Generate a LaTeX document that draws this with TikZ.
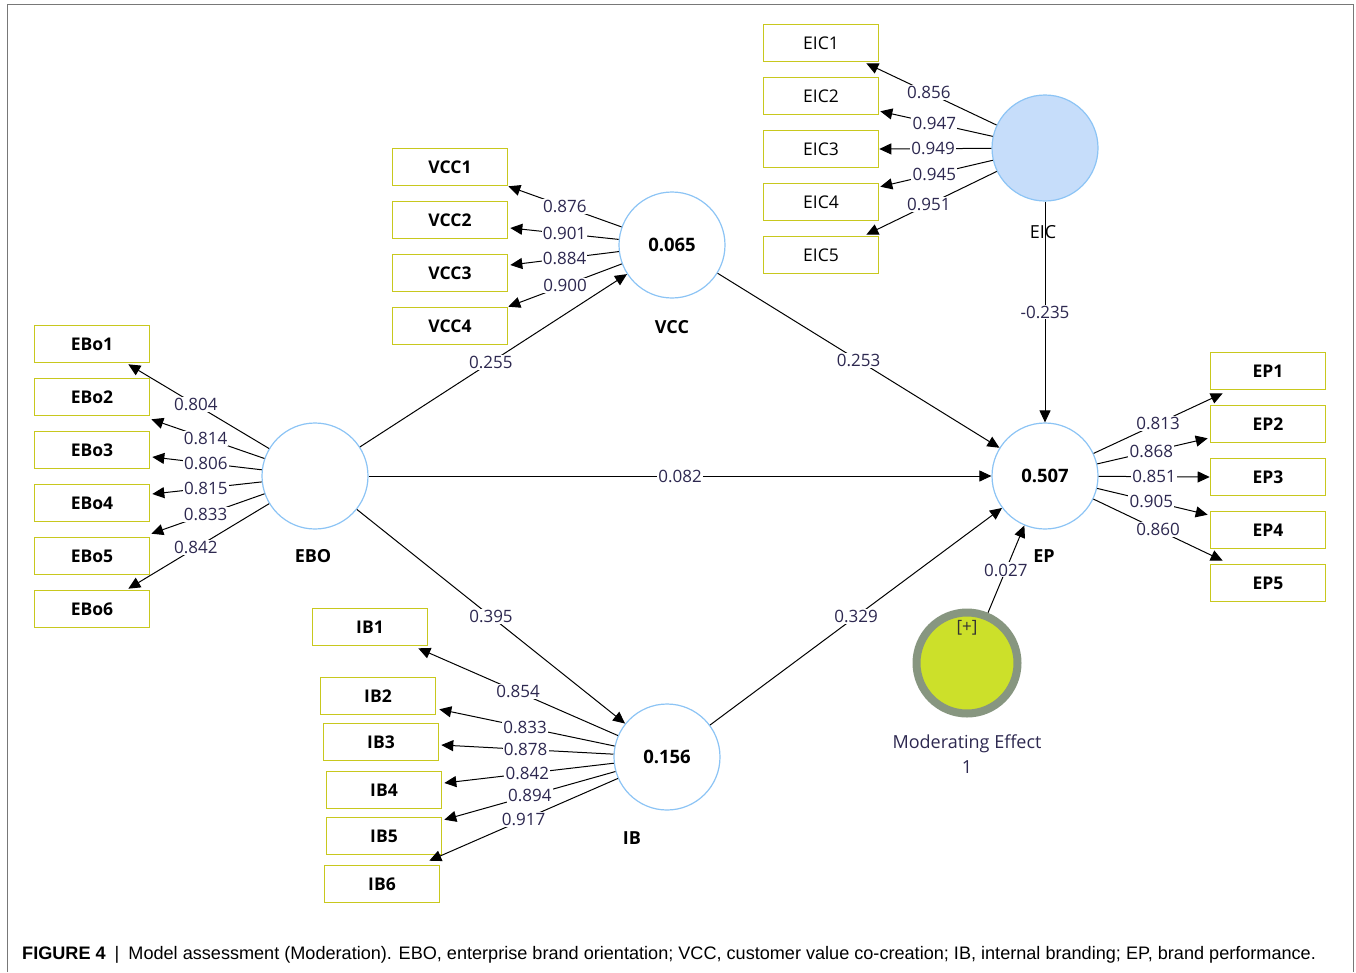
\documentclass[tikz,border=0pt]{standalone}
\usepackage{fontspec}
\setmainfont{Open Sans}
\newfontfamily\capfont{Liberation Sans}
\usetikzlibrary{arrows.meta,calc}
\definecolor{indyellow}{RGB}{200,200,30}
\definecolor{lvblue}{RGB}{140,196,245}
\definecolor{eicfill}{RGB}{198,221,250}
\definecolor{modfill}{RGB}{204,224,42}
\definecolor{modring}{RGB}{135,150,128}
\definecolor{labcol}{RGB}{45,40,80}
\definecolor{framegray}{RGB}{120,120,120}
\begin{document}
\begin{tikzpicture}[x=1pt,y=-1pt,
  ind/.style={draw=indyellow, line width=1.6pt, minimum width=115pt, minimum height=37pt, inner sep=0pt, fill=white, font=\bfseries\fontsize{17.5}{20}\selectfont},
  indr/.style={ind, font=\fontsize{17.5}{20}\selectfont},
  lv/.style={circle, draw=lvblue, line width=1.2pt, minimum size=106pt, inner sep=0pt, fill=white, font=\bfseries\fontsize{18.5}{21}\selectfont},
  lvname/.style={font=\bfseries\fontsize{18}{20}\selectfont, inner sep=0pt},
  load/.style={-{Triangle[length=12pt,width=11pt]}, line width=1pt},
  lab/.style={fill=white, inner sep=1.2pt, pos=0.5, font=\fontsize{17}{19}\selectfont, text=labcol},
]
\useasboundingbox (0,0) rectangle (1356,972);
\draw[framegray, line width=1pt] (7,972) -- (7,4) -- (1353,4) -- (1353,972);

% latent variables
\node[lv] (VCC) at (672,245) {0.065};
\node[lv, fill=eicfill] (EIC) at (1045,148) {};
\node[lv] (EBO) at (315,476) {};
\node[lv] (EP) at (1045,476) {0.507};
\node[lv] (IB) at (667,757) {0.156};
\node[circle, draw=modring, line width=8pt, fill=modfill, minimum size=101pt, inner sep=0pt] (MOD) at (967,663) {};
\node[font=\fontsize{17}{19}\selectfont, text=black!80] (MODplus) at (967,628) {[+]};

\node[lvname] (VCCn) at (672,327) {VCC};
\node[lvname] (EBOn) at (313,556) {EBO};
\node[lvname] (IBn) at (632,838) {IB};
\node[lvname] (EPn) at (1044,556) {EP};
\node[font=\fontsize{18}{20}\selectfont, inner sep=0pt] (EICn) at (1043,232) {EIC};
\node[font=\fontsize{18}{20}\selectfont, text=labcol, inner sep=0pt] (MODn) at (967,744) {Moderating Effect};
\node[font=\fontsize{18}{20}\selectfont, text=labcol, inner sep=0pt] (MODn2) at (967,767) {1};

% indicators
\node[indr] (EIC1) at (821,43) {EIC1};
\node[indr] (EIC2) at (821,96) {EIC2};
\node[indr] (EIC3) at (821,149) {EIC3};
\node[indr] (EIC4) at (821,202) {EIC4};
\node[indr] (EIC5) at (821,255) {EIC5};

\node[ind] (VCC1) at (450,167) {VCC1};
\node[ind] (VCC2) at (450,220) {VCC2};
\node[ind] (VCC3) at (450,273) {VCC3};
\node[ind] (VCC4) at (450,326) {VCC4};

\node[ind] (EBo1) at (92,344) {EBo1};
\node[ind] (EBo2) at (92,397) {EBo2};
\node[ind] (EBo3) at (92,450) {EBo3};
\node[ind] (EBo4) at (92,503) {EBo4};
\node[ind] (EBo5) at (92,556) {EBo5};
\node[ind] (EBo6) at (92,609) {EBo6};

\node[ind] (IB1) at (370,627) {IB1};
\node[ind] (IB2) at (378,696) {IB2};
\node[ind] (IB3) at (381,742) {IB3};
\node[ind] (IB4) at (384,790) {IB4};
\node[ind] (IB5) at (384,836) {IB5};
\node[ind] (IB6) at (382,884) {IB6};

\node[ind] (EP1) at (1268,371) {EP1};
\node[ind] (EP2) at (1268,424) {EP2};
\node[ind] (EP3) at (1268,477) {EP3};
\node[ind] (EP4) at (1268,530) {EP4};
\node[ind] (EP5) at (1268,583) {EP5};

% EIC loadings
\draw[load] (EIC) -- ($(EIC1.south east)+(-13,1)$) node[lab,pos=0.52]{0.856};
\draw[load] (EIC) -- ($(EIC2.south east)+(1,-4)$) node[lab,pos=0.52]{0.947};
\draw[load] (EIC) -- (EIC3.east) node[lab,pos=0.52]{0.949};
\draw[load] (EIC) -- ($(EIC4.north east)+(1,4)$) node[lab,pos=0.52]{0.945};
\draw[load] (EIC) -- ($(EIC5.north east)+(-13,-1)$) node[lab,pos=0.52]{0.951};

% VCC loadings
\draw[load] (VCC) -- (VCC1.south east) node[lab]{0.876};
\draw[load] (VCC) -- ($(VCC2.east)+(2,8)$) node[lab]{0.901};
\draw[load] (VCC) -- ($(VCC3.east)+(2,-8)$) node[lab]{0.884};
\draw[load] (VCC) -- (VCC4.north east) node[lab]{0.900};

% EBO loadings
\draw[load] (EBO) -- ($(EBo1.south east)+(-22,1)$) node[lab,pos=0.52]{0.804};
\draw[load] (EBO) -- ($(EBo2.south east)+(1,3)$) node[lab,pos=0.52]{0.814};
\draw[load] (EBO) -- ($(EBo3.east)+(2,7)$) node[lab,pos=0.51]{0.806};
\draw[load] (EBO) -- ($(EBo4.east)+(2,-9)$) node[lab,pos=0.51]{0.815};
\draw[load] (EBO) -- ($(EBo5.north east)+(1,-3)$) node[lab,pos=0.52]{0.833};
\draw[load] (EBO) -- ($(EBo6.north east)+(-22,-1)$) node[lab,pos=0.52]{0.842};

% IB loadings
\draw[load] (IB) -- ($(IB1.south east)+(-10,2)$) node[lab]{0.854};
\draw[load] (IB) -- ($(IB2.south east)+(3,-6)$) node[lab,pos=0.51]{0.833};
\draw[load] (IB) -- ($(IB3.east)+(2,3)$) node[lab,pos=0.51]{0.878};
\draw[load] (IB) -- ($(IB4.east)+(2,-7)$) node[lab,pos=0.51]{0.842};
\draw[load] (IB) -- ($(IB5.north east)+(2,3)$) node[lab]{0.894};
\draw[load] (IB) -- ($(IB6.north east)+(-11,-4)$) node[lab]{0.917};

% EP loadings
\draw[load] (EP) -- ($(EP1.south west)+(13,3)$) node[lab]{0.813};
\draw[load] (EP) -- ($(EP2.south west)+(-2,-5)$) node[lab,pos=0.49]{0.868};
\draw[load] (EP) -- (EP3.west) node[lab]{0.851};
\draw[load] (EP) -- ($(EP4.north west)+(-2,4)$) node[lab,pos=0.49]{0.905};
\draw[load] (EP) -- ($(EP5.north west)+(13,-3)$) node[lab]{0.860};

% structural paths
\draw[load] (EBO) -- (VCC) node[lab,pos=0.49]{0.255};
\draw[load] (VCC) -- (EP) node[lab]{0.253};
\draw[load] (EBO) -- (EP) node[lab]{0.082};
\draw[load] (EBO) -- (IB) node[lab]{0.395};
\draw[load] (IB) -- (EP) node[lab]{0.329};
\draw[load] (EIC) -- (EP) node[lab]{-0.235};
\draw[load] (MOD) -- (EP) node[lab,pos=0.49]{0.027};

% caption
\node[anchor=base west, inner sep=0pt, font=\capfont\fontsize{18.1}{21}\selectfont] (CAP) at (22,959)
  {\textbf{FIGURE 4}\enspace|\enspace Model assessment (Moderation). EBO, enterprise brand orientation; VCC, customer value co-creation; IB, internal branding; EP, brand performance.};
\end{tikzpicture}
\end{document}
